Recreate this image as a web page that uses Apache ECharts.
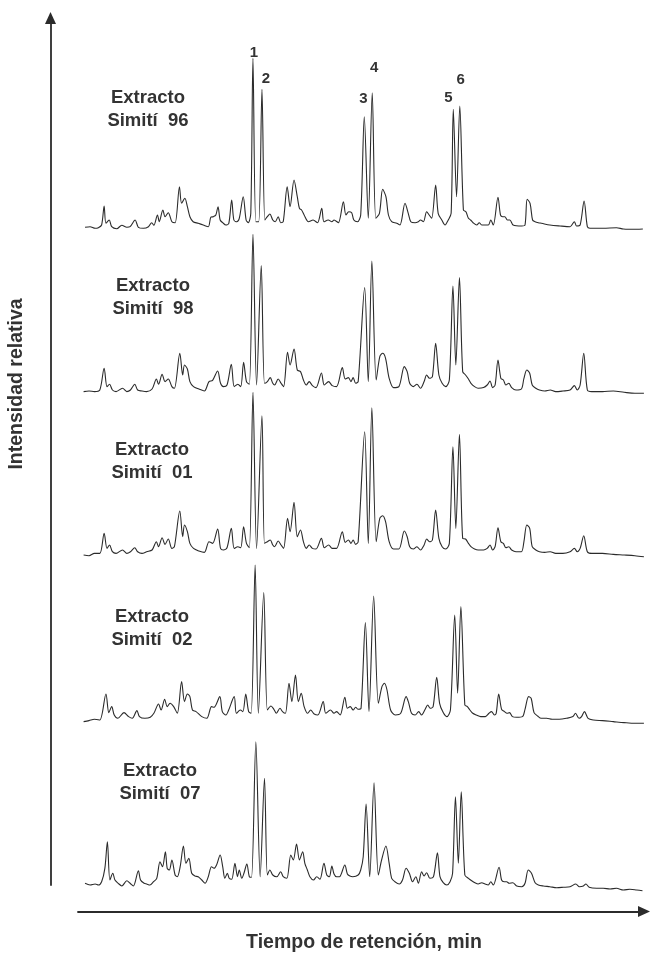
<!DOCTYPE html>
<html><head><meta charset="utf-8">
<script src="https://cdn.jsdelivr.net/npm/echarts@6/dist/echarts.min.js"></script>
<style>html,body{margin:0;padding:0;background:#fff}#c{width:652px;height:954px}</style>
</head><body><div id="c"></div>
<script>
// ---- DATA (retention position, relative intensity) ----
const sampleNames = ['Extracto\nSimití  96', 'Extracto\nSimití  98', 'Extracto\nSimití  01', 'Extracto\nSimití  02', 'Extracto\nSimití  07'];
const xTitle = 'Tiempo de retención, min';
const yTitle = 'Intensidad relativa';
const peakNumbers = ['1', '2', '3', '4', '5', '6'];
const peakRt = [480, 505, 789, 811, 1036, 1054];

const simiti96 = [[14,2.7],[28,3.3],[42,1.7],[51,2.3],[60,5],[67,24],[72,6.7],[81,10],[88,3.3],[102,1.3],[116,4.7],[130,2.7],[139,3.3],[153,10],[162,2.7],[176,1.7],[190,3.3],[199,7.3],[205,4.7],[215,15],[220,8.3],[230,20],[236,13.3],[245,17.3],[255,8.3],[264,7.3],[276,43.3],[282,26.7],[291,31.7],[298,23.3],[305,13.3],[314,8.3],[328,6.7],[342,5],[356,3.3],[363,12.7],[370,13.3],[377,15],[383,23.3],[389,10],[396,7.3],[405,5],[413,6.7],[421,30],[427,10],[435,8.3],[442,11.7],[453,33.3],[461,10],[467,7.3],[474,16.7],[480,171.7],[488,8.3],[496,8.3],[505,140.7],[513,10],[520,13.3],[527,16],[535,10],[542,8.3],[550,13.3],[557,7.3],[564,8.3],[575,43.3],[583,23.3],[594,50],[603,33.3],[609,21.7],[615,20],[622,15],[634,8.3],[647,10],[659,7.3],[671,21.7],[677,8.3],[689,10],[699,8.3],[705,10],[717,7.3],[731,28.3],[738,15],[746,18.3],[754,17.3],[760,10],[770,8.3],[779,15],[789,113.3],[800,11.7],[811,137.3],[821,11.7],[831,16.7],[840,40.7],[849,33.3],[856,15],[865,8.3],[879,6.7],[888,5],[902,26.7],[911,16.7],[918,8.3],[930,7.3],[939,8.3],[945,10],[953,8.3],[962,18.3],[969,15],[976,11.7],[987,45],[994,16.7],[1004,10],[1013,5],[1022,10],[1030,16.7],[1036,120.7],[1045,33.3],[1054,124],[1064,20],[1071,18.3],[1078,11.7],[1084,10],[1091,7.3],[1101,5],[1108,7.3],[1115,5],[1133,5],[1140,10],[1147,5],[1160,32.7],[1167,15],[1173,13.3],[1179,13.3],[1186,10],[1193,10],[1202,5],[1226,4],[1235,5],[1241,30.7],[1249,26.7],[1256,10],[1263,8.3],[1272,7.3],[1281,6.7],[1304,5],[1332,4],[1360,3.3],[1372,8.3],[1378,4],[1388,5],[1399,29],[1408,3.3],[1415,1.7],[1452,1.7],[1489,2.3],[1508,1],[1545,0.7],[1562,1]];

const simiti98 = [[10,1.7],[25,2.3],[40,1.7],[55,3.3],[67,25],[75,6.7],[82,9],[90,3.3],[100,1.7],[118,5],[130,1.7],[140,3.3],[152,9],[160,3.3],[172,2.3],[185,1.7],[200,4.3],[212,14.3],[218,9],[228,19],[236,11.7],[245,14.3],[255,6.7],[262,5],[277,40],[285,18.3],[290,28.3],[298,24.3],[305,11.7],[315,6.7],[330,4.3],[345,2.3],[358,11.7],[368,13],[382,22.3],[390,10],[398,6.7],[408,8.3],[420,29],[428,6.7],[438,9],[446,6.7],[454,31],[462,11.7],[470,9],[480,159],[490,8.3],[503,127.7],[512,10],[520,11.7],[528,15.7],[535,10],[540,8.3],[550,14.3],[558,10],[565,6.7],[576,41],[583,28.3],[594,44.3],[603,23.3],[612,21.7],[620,13.3],[628,8.3],[636,11.7],[645,7.7],[655,5.7],[670,20.3],[678,8.3],[690,11.7],[700,7.7],[712,6.7],[728,25.7],[736,14.3],[745,15.7],[752,11.7],[758,15.7],[765,10],[772,11.7],[790,105.7],[800,11.7],[810,132.3],[822,13.3],[832,36.7],[840,40],[848,35],[858,15],[870,5.7],[885,6.7],[900,26.7],[908,21.7],[915,10],[925,6.7],[935,9],[945,5],[955,11.7],[962,18.3],[970,15],[978,16.7],[987,50],[996,18.3],[1005,10],[1015,6.7],[1025,13.3],[1035,107.3],[1043,28.3],[1053,115.7],[1062,21.7],[1070,18.3],[1078,14.3],[1085,10],[1095,6.7],[1105,5],[1120,5.7],[1130,8.3],[1138,12.3],[1145,5.7],[1152,8.3],[1160,33.3],[1168,15],[1175,13.3],[1182,8.3],[1190,10],[1198,5.7],[1210,3.3],[1225,4.3],[1232,15],[1240,23.3],[1248,20],[1255,8.3],[1265,5],[1275,3.3],[1290,2.3],[1305,3.3],[1320,1.7],[1340,2.3],[1360,3.3],[1372,7.7],[1380,3.3],[1388,8.3],[1398,40],[1408,3.3],[1420,1.7],[1450,1.7],[1480,2.3],[1510,1],[1540,0],[1565,0]];

const simiti01 = [[10,1.7],[25,1],[40,3.3],[55,3.3],[67,23.3],[75,8.3],[82,11.7],[90,5],[100,3.3],[118,6.7],[130,3.3],[140,5],[152,9],[160,5],[172,3.3],[185,5],[200,6.7],[212,15],[218,10],[228,19],[236,12.3],[245,17.7],[255,8.3],[262,10],[277,45.7],[285,20],[290,31.7],[298,25],[305,13.3],[315,8.3],[330,5.7],[345,4.3],[358,15],[368,13.3],[382,27.7],[390,8.3],[398,6.7],[408,9],[420,28.3],[428,8.3],[438,10],[446,9],[454,30],[462,13.3],[470,9],[480,164.3],[490,8.3],[505,141],[512,13.3],[520,15],[528,16.7],[535,11.7],[540,10],[550,15.7],[558,11.7],[565,8.3],[576,38.3],[583,25],[594,54.3],[603,20],[612,26.7],[620,15],[628,8.3],[636,11.7],[645,8.3],[655,7.7],[670,18.3],[678,9],[690,11.7],[700,8.3],[712,8.3],[728,25],[736,14.3],[745,16.7],[752,13.3],[758,16.7],[765,12.3],[772,15],[790,125],[800,13.3],[810,149],[822,15],[832,38.3],[840,41],[848,35],[858,15],[870,7.7],[885,7.7],[900,25.7],[908,20],[915,10],[925,7.7],[935,10],[945,6.7],[955,11.7],[962,17.7],[970,15],[978,16.7],[987,46.7],[996,18.3],[1005,10],[1015,7.7],[1025,13.3],[1035,110],[1043,28.3],[1053,122.3],[1062,18.3],[1070,17.7],[1078,13.3],[1085,10],[1095,7.7],[1105,6.7],[1120,6.7],[1130,8.3],[1138,11.7],[1145,6.7],[1152,10],[1160,29],[1168,15],[1175,13.3],[1182,9],[1190,10],[1198,6.7],[1210,5],[1225,5],[1232,15],[1240,31.7],[1248,28.3],[1255,10],[1265,6.7],[1275,5],[1290,4.3],[1305,5],[1320,3.3],[1340,3.3],[1360,5],[1372,8.3],[1380,5],[1388,8.3],[1398,21],[1408,5],[1420,3.3],[1450,3.3],[1480,2.3],[1510,1.7],[1540,1],[1565,0]];

const simiti02 = [[10,1.7],[25,2.7],[40,4],[55,3.3],[72,29.3],[80,10.7],[88,16.7],[95,8.3],[105,5],[122,10.7],[135,6.7],[145,5],[158,12.7],[165,6.7],[180,5],[195,6],[205,10],[218,19.3],[225,13.3],[235,24],[242,16.7],[250,20],[260,16.7],[270,10],[282,41.7],[290,21.7],[298,29.3],[305,26.7],[312,13.3],[322,11.7],[338,6.7],[352,5],[365,16.7],[372,16],[388,26.7],[395,11.7],[405,8.3],[412,12.7],[428,26.7],[434,10],[445,13.3],[452,11.7],[460,29.3],[468,11.7],[475,10],[486,158.3],[495,10],[510,130.7],[520,13.3],[530,17.3],[538,14],[545,10],[555,15],[562,11.7],[570,10],[580,40],[588,21.7],[598,48.3],[606,21.7],[614,30],[622,16.7],[632,10],[640,13.3],[650,9.3],[660,8.3],[675,21.7],[682,10],[695,13.3],[705,10],[712,11.7],[722,8.3],[735,26],[742,15],[750,16.7],[758,13.3],[765,16],[772,14],[780,15],[792,100.7],[802,11.7],[815,127.3],[828,20],[838,36.7],[845,40],[852,33.3],[862,13.3],[875,8.3],[890,10],[905,26.7],[912,20.7],[920,10],[930,8.3],[940,11.7],[948,8.3],[958,14],[965,18.3],[972,15],[980,16.7],[990,46],[998,20],[1008,10.7],[1018,6.7],[1028,13.3],[1040,108.3],[1048,30],[1057,116.7],[1068,18.3],[1075,16.7],[1082,13.3],[1090,10],[1100,8.3],[1112,6.7],[1125,6.7],[1135,10],[1142,11.7],[1150,8.3],[1155,10],[1162,29.3],[1170,14],[1178,11.7],[1185,10],[1192,10.7],[1200,6.7],[1212,6],[1228,6.7],[1235,14],[1245,26.7],[1252,25],[1260,10.7],[1270,7.3],[1280,5],[1295,5],[1310,4],[1330,4],[1350,5],[1368,6.7],[1375,10],[1385,5],[1392,6.7],[1400,11.7],[1410,5],[1425,3.3],[1450,2.7],[1480,1.7],[1510,0.7],[1540,0],[1565,0]];

const simiti07 = [[14,6.7],[28,5],[42,6],[51,5],[60,8.3],[69,21.7],[76,48.3],[83,10],[91,16.7],[97,10],[106,6.7],[116,4],[130,9.3],[139,6.7],[148,4],[162,19.3],[168,10],[178,6.7],[185,6],[194,5],[204,8.3],[213,11.7],[222,28.3],[229,23.3],[237,38.3],[242,21.7],[248,20],[255,30],[264,15],[270,13.3],[278,23.3],[287,44],[294,26.7],[302,31.7],[310,16.7],[319,14],[328,13.3],[338,10],[347,6.7],[356,13.3],[365,23.3],[372,21.7],[379,25],[389,35],[396,23.3],[402,11.7],[409,16.7],[414,11.7],[421,10.7],[430,26.7],[437,13.3],[442,20],[449,11.7],[455,16.7],[463,26],[470,13.3],[476,12.7],[488,148.3],[500,13.3],[512,111.7],[520,15],[527,20],[535,15],[546,13.3],[557,18.3],[564,13.3],[574,11.7],[585,35],[592,30],[601,46],[609,30],[618,38.3],[624,26.7],[631,20],[638,13.3],[648,10],[657,13.3],[666,10.7],[677,26.7],[685,15],[692,13.3],[699,24],[705,16],[712,13.3],[720,13.3],[735,25],[742,16],[749,14],[757,13.3],[772,15],[779,20],[786,33.3],[794,86],[804,13.3],[816,107.3],[828,15],[837,30],[849,44],[858,26.7],[865,11.7],[874,8.3],[886,6],[895,10],[905,21.7],[914,16.7],[923,8.3],[932,13.3],[939,6.7],[948,18.3],[955,14],[962,17.3],[971,11.7],[981,13.3],[992,37.3],[999,13.3],[1008,7.3],[1018,5],[1027,8.3],[1034,16.7],[1042,93.3],[1050,26.7],[1058,98.3],[1068,15],[1078,11.7],[1087,9.3],[1096,7.3],[1105,6],[1115,7.3],[1124,6],[1133,5],[1140,8.3],[1147,5],[1163,22.7],[1170,10],[1177,8.3],[1184,8.3],[1191,6.7],[1201,7.3],[1212,4],[1226,3.3],[1235,6.7],[1244,20],[1253,16.7],[1263,7.3],[1272,5],[1286,4],[1304,3.3],[1323,2.3],[1341,2.7],[1360,3.3],[1376,6],[1386,3.3],[1397,4],[1404,6],[1413,2.7],[1434,1.7],[1452,1.7],[1471,1],[1489,1.7],[1508,0],[1526,0.7],[1545,0],[1561,-0.7]];

// ---- LAYOUT / STYLE ----
const traces = [simiti96, simiti98, simiti01, simiti02, simiti07];
const baselines = [230, 393.3, 556.7, 723.3, 890];
const labelCenters = [[148, 109], [153, 297], [152, 461], [152, 628], [160, 782]];
const peakLabelOffsets = [[1, -5], [4, -10], [-1, -18], [2, -25], [-5, -11], [1, -26]];
const FONT = '"Liberation Sans", Arial, Helvetica, sans-serif';
const INK = '#2b2b2b';
const SPAN = 180;

const grids = baselines.map(b => ({ left: 80, width: 565, top: b - SPAN, height: SPAN }));
grids.push({ left: 50.5, top: 18, width: 1, height: 867 });
grids.push({ left: 78, top: 880, width: 566, height: 31.5 });

const hiddenX = i => ({ type: 'value', gridIndex: i, min: 0, max: 1568, show: false });
const hiddenY = i => ({ type: 'value', gridIndex: i, min: 0, max: SPAN, show: false });

const xAxes = traces.map((_, i) => hiddenX(i));
const yAxes = traces.map((_, i) => hiddenY(i));
const arrowLine = { show: true, symbol: ['none', 'triangle'], symbolSize: [11, 12], lineStyle: { color: INK, width: 1.8 } };
xAxes.push({ type: 'value', gridIndex: 5, min: 0, max: 1, show: false });
yAxes.push({ type: 'value', gridIndex: 5, min: 0, max: 1, position: 'left', axisLine: arrowLine, axisTick: { show: false }, axisLabel: { show: false }, splitLine: { show: false } });
xAxes.push({ type: 'value', gridIndex: 6, min: 0, max: 1, position: 'bottom', axisLine: arrowLine, axisTick: { show: false }, axisLabel: { show: false }, splitLine: { show: false } });
yAxes.push({ type: 'value', gridIndex: 6, min: 0, max: 1, show: false });

const trace1 = traces[0];
const peakCoord = rt => trace1.find(p => p[0] === rt);

const series = traces.map((d, i) => ({
  type: 'line', xAxisIndex: i, yAxisIndex: i, data: d, showSymbol: false, symbol: 'none',
  smooth: 0.3, clip: false, silent: true,
  lineStyle: { color: INK, width: 1.1 },
  markPoint: i === 0 ? {
    symbol: 'circle', symbolSize: 1, itemStyle: { color: 'rgba(0,0,0,0)' }, silent: true,
    label: { show: true, color: '#333', fontFamily: FONT, fontWeight: 'bold', fontSize: 15 },
    data: peakNumbers.map((n, k) => ({ coord: peakCoord(peakRt[k]), label: { formatter: n, offset: peakLabelOffsets[k] } }))
  } : undefined
}));

const graphics = sampleNames.map((name, i) => ({
  type: 'text', x: labelCenters[i][0], y: labelCenters[i][1], silent: true,
  style: { text: name, fill: '#333', font: 'bold 18.5px ' + FONT, textAlign: 'center', textVerticalAlign: 'middle', lineHeight: 23 }
}));
graphics.push({ type: 'text', x: 364, y: 943, silent: true, style: { text: xTitle, fill: '#333', font: 'bold 19.5px ' + FONT, textAlign: 'center', textVerticalAlign: 'middle' } });
graphics.push({ type: 'text', x: 17, y: 384, rotation: Math.PI / 2, silent: true, style: { text: yTitle, fill: '#333', font: 'bold 19.5px ' + FONT, textAlign: 'center', textVerticalAlign: 'middle' } });

const chart = echarts.init(document.getElementById('c'), null, { renderer: 'canvas' });
chart.setOption({
  backgroundColor: '#ffffff',
  animation: false,
  grid: grids,
  xAxis: xAxes,
  yAxis: yAxes,
  series: series,
  graphic: graphics
});
</script>
</body></html>
